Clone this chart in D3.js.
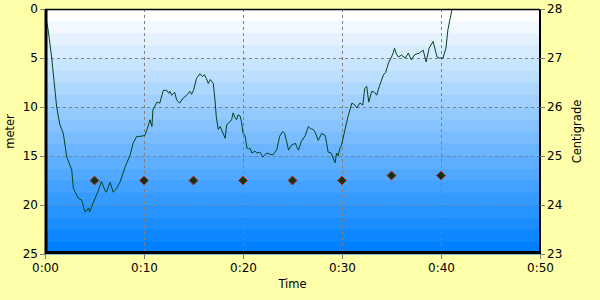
<!DOCTYPE html>
<html>
<head>
<meta charset="utf-8">
<script src="https://cdn.jsdelivr.net/npm/d3@7"></script>
<style>
  body { margin: 0; background: #ffffaa; }
  svg { display: block; }
  text { font-family: "DejaVu Sans", Verdana, sans-serif; fill: #000; }
</style>
</head>
<body>
<div id="chart"></div>
<script>
// depth profile (minutes, meters)
const depthTime = [0.1, 0.3, 0.68, 1.18, 1.5, 1.85, 2.2, 2.7, 2.86, 3.36, 3.7, 4.04, 4.2, 4.4, 4.5, 4.9, 5.4, 5.7,
  6.06, 6.2, 6.57, 6.9, 7.24, 7.6, 8.1, 8.6, 8.9, 9.26, 9.6, 10.1, 10.4, 10.6, 10.8, 10.9, 11.3, 11.6, 11.95,
  12.3, 12.5, 12.6, 12.8, 13.1, 13.3, 13.6, 13.95, 14.3, 14.65, 14.8, 15.0, 15.3, 15.65, 15.9, 16.1, 16.3,
  16.5, 16.7, 17.0, 17.2, 17.3, 17.5, 17.7, 18.0, 18.2, 18.35, 18.5, 18.85, 19.0, 19.2, 19.35, 19.5, 19.7,
  19.85, 20.0, 20.2, 20.4, 20.55, 20.7, 20.9, 21.2, 21.4, 21.7, 22.0, 22.4, 22.7, 23.0, 23.4, 23.7, 24.0,
  24.2, 24.4, 24.6, 24.9, 25.3, 25.4, 25.6, 25.9, 26.3, 26.6, 26.8, 27.1, 27.3, 27.6, 27.95, 28.3, 28.45,
  28.6, 28.9, 29.1, 29.3, 29.45, 29.6, 29.8, 29.95, 30.3, 30.6, 31.0, 31.3, 31.5, 31.8, 32.1, 32.3, 32.5,
  32.7, 33.0, 33.3, 33.5, 33.8, 34.2, 34.4, 34.7, 35.0, 35.2, 35.3, 35.5, 35.7, 36.0, 36.4, 36.7, 37.0,
  37.3, 37.5, 37.8, 38.2, 38.5, 38.8, 39.2, 39.6, 39.8, 40.2, 40.5, 40.7, 40.9, 41.1, 41.2];
const depthValue = [1.0, 2.0, 5.0, 10.0, 11.8, 12.7, 15.1, 16.4, 18.3, 19.3, 19.5, 20.7, 20.6, 20.3, 20.7, 19.7, 18.5, 17.6,
  18.5, 18.7, 17.7, 18.7, 18.3, 17.6, 16.1, 14.9, 13.7, 13.0, 13.0, 12.9, 12.0, 11.3, 12.0, 10.3, 9.5, 9.6, 8.3,
  8.3, 8.6, 8.4, 8.8, 8.5, 9.3, 9.6, 9.1, 8.8, 8.4, 8.7, 8.3, 7.1, 6.6, 6.9, 6.7, 7.1,
  7.6, 7.2, 7.6, 9.6, 11.0, 12.3, 12.0, 12.7, 13.2, 11.8, 11.7, 11.3, 10.6, 11.1, 11.3, 10.8, 10.9,
  11.5, 12.7, 12.9, 14.2, 14.3, 14.2, 14.7, 14.5, 14.7, 14.6, 15.1, 14.7, 14.8, 14.9, 14.4, 13.0, 12.5,
  12.7, 13.5, 14.4, 13.9, 13.7, 14.0, 14.4, 13.5, 12.9, 12.0, 12.2, 12.3, 12.6, 13.4, 12.7, 12.9, 13.7,
  14.6, 14.7, 15.2, 15.7, 14.7, 15.0, 14.2, 13.9, 12.3, 11.0, 9.6, 9.8, 10.1, 9.6, 9.8, 8.1, 7.9,
  9.5, 8.4, 8.5, 8.8, 7.8, 6.7, 6.5, 5.5, 4.9, 4.4, 4.0, 4.6, 4.9, 4.7, 5.0, 4.5, 5.2,
  4.7, 4.6, 4.5, 4.2, 5.4, 4.0, 3.3, 4.9, 5.0, 5.0, 4.0, 2.1, 1.1, 0.1, 0.0];

// temperature samples (minutes, centigrade)
const tempTime = [5, 10, 15, 20, 25, 30, 35, 40];
const tempValue = [24.5, 24.5, 24.5, 24.5, 24.5, 24.5, 24.6, 24.6];

const xTicks = [0, 10, 20, 30, 40, 50];
const depthTicks = [0, 5, 10, 15, 20, 25];
const tempTicks = [23, 24, 25, 26, 27, 28];

const width = 600, height = 300;
const plot = { left: 45, right: 540, top: 9, bottom: 254 };

const svg = d3.select("#chart").append("svg")
  .attr("width", width)
  .attr("height", height);

svg.append("rect").attr("width", width).attr("height", height).attr("fill", "#ffffaa");

const x = d3.scaleLinear().domain([0, 50]).range([plot.left, plot.right]);
const yDepth = d3.scaleLinear().domain([0, 25]).range([plot.top, plot.bottom]);
const yTemp = d3.scaleLinear().domain([23, 28]).range([plot.bottom, plot.top]);

// banded background, white to blue
const bands = 20;
const bandColor = d3.interpolateRgb("#ffffff", "#0080ff");
const bandH = (plot.bottom - plot.top) / bands;
svg.append("g").selectAll("rect")
  .data(d3.range(bands))
  .join("rect")
  .attr("x", plot.left)
  .attr("y", i => plot.top + i * bandH)
  .attr("width", plot.right - plot.left)
  .attr("height", bandH + 0.5)
  .attr("fill", i => bandColor(i / (bands - 1)));

// grid
const grid = svg.append("g")
  .attr("stroke", "#808080")
  .attr("stroke-dasharray", "3,3")
  .attr("stroke-width", 1);
grid.selectAll(".gx")
  .data(xTicks.slice(1, -1))
  .join("line")
  .attr("x1", d => Math.round(x(d)) + 0.5).attr("x2", d => Math.round(x(d)) + 0.5)
  .attr("y1", plot.top).attr("y2", plot.bottom);
grid.selectAll(".gy")
  .data(depthTicks.slice(1, -1))
  .join("line")
  .attr("y1", d => Math.round(yDepth(d)) + 0.5).attr("y2", d => Math.round(yDepth(d)) + 0.5)
  .attr("x1", plot.left).attr("x2", plot.right);

// clip for the depth line
svg.append("clipPath").attr("id", "clip")
  .append("rect")
  .attr("x", plot.left).attr("y", plot.top)
  .attr("width", plot.right - plot.left).attr("height", plot.bottom - plot.top);

const depthData = depthTime.map((t, i) => ({ t: t, v: depthValue[i] }));
const line = d3.line().x(d => x(d.t)).y(d => yDepth(d.v));

svg.append("path")
  .datum(depthData)
  .attr("clip-path", "url(#clip)")
  .attr("fill", "none")
  .attr("stroke", "#004422")
  .attr("stroke-width", 1)
  .attr("d", line);

// temperature markers
const tempData = tempTime.map((t, i) => ({ t: t, v: tempValue[i] }));
svg.append("g").selectAll("path")
  .data(tempData)
  .join("path")
  .attr("transform", d => `translate(${x(d.t)},${yTemp(d.v)})`)
  .attr("d", "M0,-4.5L4.5,0L0,4.5L-4.5,0Z")
  .attr("fill", "#113311")
  .attr("stroke", "#bb3333")
  .attr("stroke-width", 1);

// frame
svg.append("line").attr("x1", plot.left).attr("x2", plot.right)
  .attr("y1", plot.top + 0.5).attr("y2", plot.top + 0.5).attr("stroke", "#000").attr("stroke-width", 1.5);
svg.append("line").attr("x1", plot.right).attr("x2", plot.right)
  .attr("y1", plot.top).attr("y2", plot.bottom).attr("stroke", "#000").attr("stroke-width", 2);
svg.append("line").attr("x1", plot.left + 1).attr("x2", plot.left + 1)
  .attr("y1", plot.top).attr("y2", plot.bottom).attr("stroke", "#000").attr("stroke-width", 3);
svg.append("line").attr("x1", plot.left).attr("x2", plot.right + 1)
  .attr("y1", plot.bottom - 1.5).attr("y2", plot.bottom - 1.5).attr("stroke", "#000").attr("stroke-width", 3);

// axes
const fmtTime = d => `0:${d3.format("02")(d)}`;
const styleAxis = g => {
  g.select(".domain").remove();
  g.selectAll(".tick line").attr("stroke", "#808080");
  g.selectAll(".tick text").attr("font-size", 12).attr("font-family", "DejaVu Sans, Verdana, sans-serif").attr("fill", "#000");
};

svg.append("g")
  .attr("transform", `translate(0,${plot.bottom})`)
  .call(d3.axisBottom(x).tickValues(xTicks).tickFormat(fmtTime).tickSize(5).tickPadding(4))
  .call(styleAxis);

svg.append("g")
  .attr("transform", `translate(${plot.left},0)`)
  .call(d3.axisLeft(yDepth).tickValues(depthTicks).tickFormat(d3.format("d")).tickSize(5).tickPadding(2))
  .call(styleAxis);

svg.append("g")
  .attr("transform", `translate(${plot.right},0)`)
  .call(d3.axisRight(yTemp).tickValues(tempTicks).tickFormat(d3.format("d")).tickSize(5).tickPadding(2))
  .call(styleAxis);

// titles
svg.append("text")
  .attr("x", (plot.left + plot.right) / 2)
  .attr("y", 288)
  .attr("text-anchor", "middle")
  .attr("font-size", 11.5)
  .text("Time");

svg.append("text")
  .attr("transform", `translate(14,${(plot.top + plot.bottom) / 2}) rotate(-90)`)
  .attr("text-anchor", "middle")
  .attr("font-size", 11.5)
  .text("meter");

svg.append("text")
  .attr("transform", `translate(581,${(plot.top + plot.bottom) / 2}) rotate(-90)`)
  .attr("text-anchor", "middle")
  .attr("font-size", 11.5)
  .text("Centigrade");
</script>
</body>
</html>
